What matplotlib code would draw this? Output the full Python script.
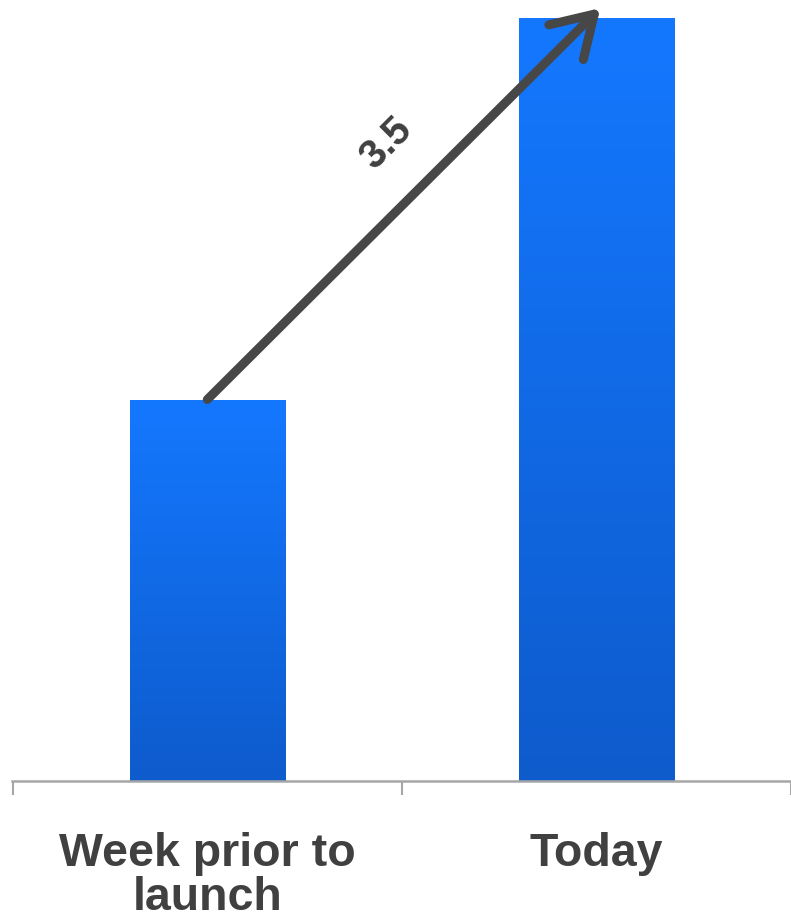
import numpy as np
import matplotlib.pyplot as plt
from matplotlib.colors import LinearSegmentedColormap
from matplotlib.patches import FancyArrowPatch

categories = ["Week prior to\nlaunch", "Today"]
values = [1.0, 2.0]
growth_label = "3.5"

plt.rcParams['font.family'] = ['Liberation Sans', 'DejaVu Sans']

fig = plt.figure(figsize=(7.91, 9.18), dpi=100)
ax = fig.add_axes([12 / 791, 137 / 918, 779 / 791, 781 / 918])

x = np.arange(len(categories))
bars = ax.bar(x, values, width=0.4, color='none', zorder=2)

cmap = LinearSegmentedColormap.from_list('blu', ['#0E5BCC', '#1478FF'])
grad = np.linspace(0, 1, 256).reshape(-1, 1)
for b in bars:
    x0, w, h = b.get_x(), b.get_width(), b.get_height()
    im = ax.imshow(grad, cmap=cmap, aspect='auto', origin='lower',
                   extent=(x0, x0 + w, 0, h), zorder=2)
    im.set_clip_path(b)

ax.set_xlim(-0.502, 1.485)
ax.set_ylim(0, 2 * 781 / 763)

for s in ['top', 'right', 'left']:
    ax.spines[s].set_visible(False)
ax.spines['bottom'].set_color('#A6A6A6')
ax.spines['bottom'].set_linewidth(1.8)
ax.spines['bottom'].set_zorder(3)

ax.set_yticks([])
ax.set_xticks(x)
ax.set_xticklabels(categories, fontsize=33.5, fontweight='bold', color='#404040',
                   linespacing=1.0)
ax.tick_params(axis='x', which='major', length=0, pad=37)
ax.set_xticks([-0.5, 0.5, 1.5], minor=True)
ax.tick_params(axis='x', which='minor', length=10, width=1.5, color='#A6A6A6')

arrow = FancyArrowPatch((x[0], values[0]), (x[1] + 0.01, values[1] * 1.013),
                        arrowstyle='->,head_length=1.3,head_width=0.8',
                        mutation_scale=22, color='#474747', lw=6.5,
                        capstyle='round', joinstyle='round', zorder=5,
                        clip_on=False, shrinkA=0, shrinkB=0)
ax.add_patch(arrow)

ax.text(0.46, 1.67, growth_label, rotation=45, fontsize=29, fontweight='bold',
        color='#404040', ha='center', va='center')

fig.savefig('out.png', dpi=100)
